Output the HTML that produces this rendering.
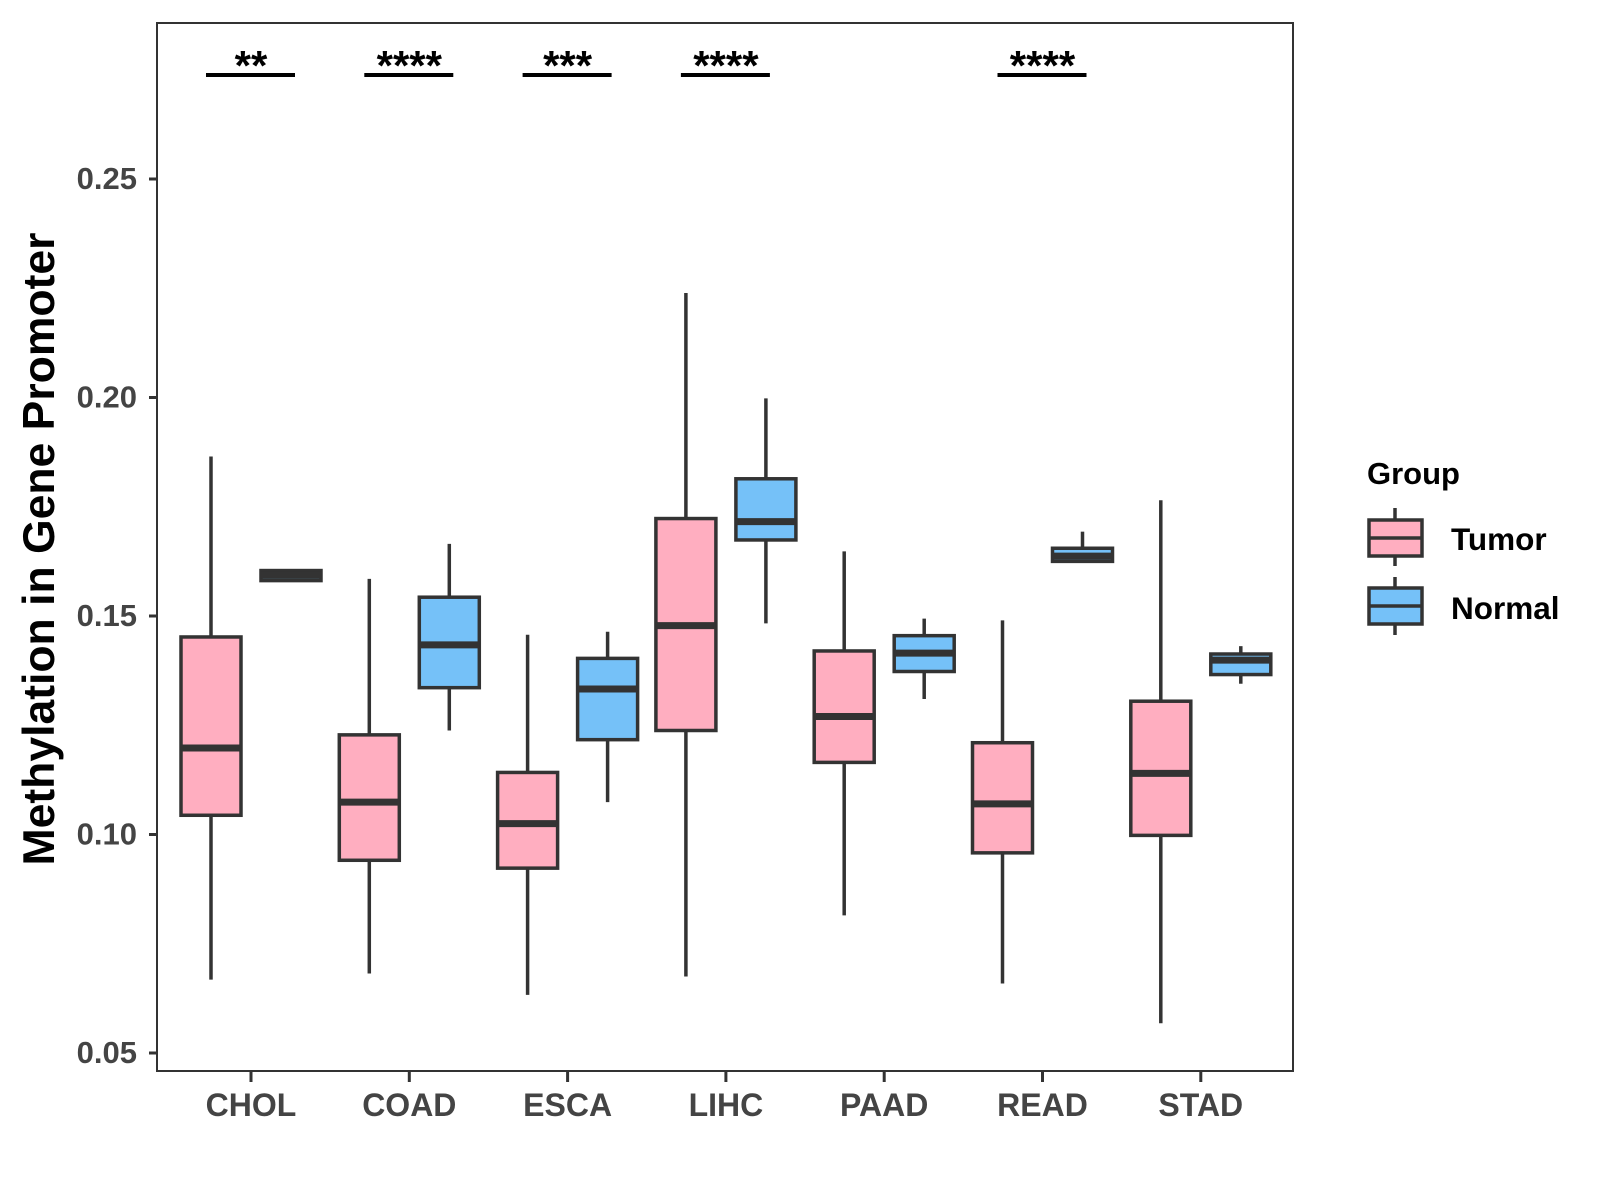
<!DOCTYPE html>
<html><head><meta charset="utf-8"><style>
body{margin:0;background:#fff}
svg{display:block;font-family:"Liberation Sans",Arial,sans-serif;font-weight:bold}
</style></head><body>
<svg id="chart" width="1600" height="1200" viewBox="0 0 1600 1200" xmlns="http://www.w3.org/2000/svg">
<rect x="157" y="23" width="1136" height="1048" fill="#fff" stroke="#333" stroke-width="2"/>
<g id="marks"></g>
<text transform="translate(54,549) rotate(-90)" text-anchor="middle" font-size="44.5" fill="#000">Methylation in Gene Promoter</text>
<g>
<text x="1367" y="484" font-size="31" fill="#000">Group</text>
<line x1="1395" y1="508" x2="1395" y2="566" stroke="#333" stroke-width="3.5"/>
<rect x="1369" y="520" width="53" height="36" fill="#FFAEC0" stroke="#333" stroke-width="3.5"/>
<line x1="1369" y1="538" x2="1422" y2="538" stroke="#333" stroke-width="3.5"/>
<text x="1451" y="550" font-size="31.5" fill="#000">Tumor</text>
<line x1="1395" y1="577" x2="1395" y2="635" stroke="#333" stroke-width="3.5"/>
<rect x="1369" y="588" width="53" height="36" fill="#75C1F8" stroke="#333" stroke-width="3.5"/>
<line x1="1369" y1="606" x2="1422" y2="606" stroke="#333" stroke-width="3.5"/>
<text x="1451" y="619" font-size="31.5" fill="#000">Normal</text>
</g>
</svg>
<script>
const categories=["CHOL","COAD","ESCA","LIHC","PAAD","READ","STAD"];
const tumorStats=[[0.0668,0.1044,0.1198,0.1452,0.1865],[0.0682,0.0941,0.1074,0.1228,0.1585],[0.0633,0.0923,0.1025,0.1142,0.1457],[0.0675,0.1238,0.1478,0.1723,0.2239],[0.0815,0.1165,0.1270,0.1420,0.1648],[0.0659,0.0958,0.1070,0.1210,0.1490],[0.0568,0.0998,0.1140,0.1305,0.1765]];
const normalStats=[[0.1581,0.1581,0.1593,0.1604,0.1604],[0.1238,0.1336,0.1434,0.1543,0.1665],[0.1074,0.1217,0.1333,0.1403,0.1464],[0.1483,0.1674,0.1716,0.1814,0.1998],[0.1310,0.1373,0.1415,0.1455,0.1494],[0.1625,0.1625,0.1637,0.1655,0.1693],[0.1345,0.1366,0.1399,0.1413,0.1431]];
const yTicks=[0.05,0.10,0.15,0.20,0.25];
const yTickLabels=["0.05","0.10","0.15","0.20","0.25"];
const sigLabels=["**","****","***","****","","****",""];
const NS="http://www.w3.org/2000/svg";
const g=document.getElementById('marks');
function y(v){return 179+(0.25-v)/0.05*218.5;}
function x(i){return 251+i*158.3;}
function el(tag,attrs){const e=document.createElementNS(NS,tag);for(const k in attrs)e.setAttribute(k,attrs[k]);g.appendChild(e);return e;}
yTicks.forEach((t,i)=>{
  const l=el('line',{x1:149,x2:157,y1:y(t),y2:y(t),stroke:'#333','stroke-width':3});
  
  
  const tx=el('text',{x:137,y:y(t)+10,'text-anchor':'end','font-size':31,fill:'#444'});
  tx.textContent=yTickLabels[i];
  
  
});
function box(cx,s,fill,name){
  const w=60;
  const wl=el('line',{x1:cx,x2:cx,y1:y(s[4]),y2:y(s[0]),stroke:'#333','stroke-width':3.5});
  
  
  const r=el('rect',{x:cx-w/2,y:y(s[3]),width:w,height:Math.max(y(s[1])-y(s[3]),1),fill:fill,stroke:'#333','stroke-width':3.5});
  
  
  const m=el('line',{x1:cx-w/2,x2:cx+w/2,y1:y(s[2]),y2:y(s[2]),stroke:'#333','stroke-width':7});
  
  
}
categories.forEach((c,i)=>{
  const cx=x(i);
  box(cx-40,tumorStats[i],'#FFAEC0','box-'+c.toLowerCase()+'-tumor');
  box(cx+40,normalStats[i],'#75C1F8','box-'+c.toLowerCase()+'-normal');
  const t=el('line',{x1:cx,x2:cx,y1:1071,y2:1082,stroke:'#333','stroke-width':3});
  
  
  const lb=el('text',{x:cx,y:1116,'text-anchor':'middle','font-size':32,fill:'#444'});
  lb.textContent=c;
  
  
  if(sigLabels[i]){
    const bl=el('line',{x1:cx-45,x2:cx+44,y1:75,y2:75,stroke:'#000','stroke-width':4});
    
    
    const st=el('text',{x:cx,y:80,'text-anchor':'middle','font-size':42,fill:'#000'});
    st.textContent=sigLabels[i];
    
    
  }
});
</script>
</body></html>
